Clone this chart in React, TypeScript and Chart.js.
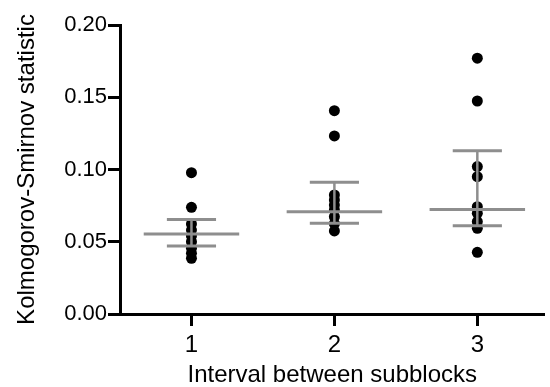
import React, { useEffect, useRef } from "react";
import { Chart, registerables } from "chart.js";

Chart.register(...registerables);

// Category positions on the x axis and their labels
const categories = [1, 2, 3];
const categoryLabels = ["1", "2", "3"];

// Individual Kolmogorov-Smirnov statistics per interval
const group1 = [0.0978, 0.0738, 0.0623, 0.0581, 0.054, 0.05, 0.0455, 0.042, 0.0385];
const group2 = [0.1407, 0.1232, 0.0824, 0.0789, 0.0754, 0.072, 0.0673, 0.0625, 0.0575];
const group3 = [0.177, 0.1474, 0.102, 0.095, 0.0743, 0.0697, 0.0639, 0.0593, 0.0427];

// Summary lines (median and quartiles)
const medians = [0.0554, 0.0708, 0.0724];
const upperQuartiles = [0.0654, 0.0911, 0.113];
const lowerQuartiles = [0.0471, 0.0628, 0.0611];

// Y axis ticks
const yTicks = [0, 0.05, 0.1, 0.15, 0.2];

const groups = [group1, group2, group3];

const FONT = "Arial, 'Liberation Sans', Helvetica, sans-serif";
const GRAY = "#8e8e8e";
const MEDIAN_HALF = 0.334;
const CAP_HALF = 0.172;

export default function App() {
  const ref = useRef<HTMLCanvasElement | null>(null);

  useEffect(() => {
    if (!ref.current) return;

    const lineDs = (pts: { x: number; y: number }[], width: number) => ({
      type: "scatter" as const,
      data: pts,
      showLine: true,
      borderColor: GRAY,
      borderWidth: width,
      borderCapStyle: "butt" as const,
      pointRadius: 0,
      pointHoverRadius: 0,
      order: 0,
    });

    const datasets: any[] = [];
    categories.forEach((c, i) => {
      datasets.push(
        lineDs(
          [
            { x: c - MEDIAN_HALF, y: medians[i] },
            { x: c + MEDIAN_HALF, y: medians[i] },
          ],
          3
        )
      );
      datasets.push(
        lineDs(
          [
            { x: c - CAP_HALF, y: upperQuartiles[i] },
            { x: c + CAP_HALF, y: upperQuartiles[i] },
          ],
          3
        )
      );
      datasets.push(
        lineDs(
          [
            { x: c - CAP_HALF, y: lowerQuartiles[i] },
            { x: c + CAP_HALF, y: lowerQuartiles[i] },
          ],
          3
        )
      );
      datasets.push(
        lineDs(
          [
            { x: c, y: lowerQuartiles[i] },
            { x: c, y: upperQuartiles[i] },
          ],
          2.5
        )
      );
    });
    categories.forEach((c, i) => {
      datasets.push({
        type: "scatter",
        data: groups[i].map((v) => ({ x: c, y: v })),
        backgroundColor: "#000000",
        borderWidth: 0,
        pointRadius: 5.5,
        pointHoverRadius: 5.5,
        order: 1,
      });
    });

    const chart = new Chart(ref.current, {
      type: "scatter",
      data: { datasets },
      options: {
        animation: false,
        responsive: false,
        events: [],
        layout: { padding: { top: 25, right: 0, bottom: 0, left: 0 } },
        plugins: { legend: { display: false }, tooltip: { enabled: false } },
        scales: {
          x: {
            type: "linear",
            min: 0.5,
            max: 3.47,
            afterBuildTicks: (scale: any) => {
              scale.ticks = categories.map((v) => ({ value: v }));
            },
            afterFit: (scale: any) => {
              scale.height = 73;
            },
            grid: {
              display: true,
              drawOnChartArea: false,
              drawTicks: true,
              tickLength: 12,
              tickWidth: 3,
              tickColor: "#000000",
            },
            border: { display: true, color: "#000000", width: 3 },
            ticks: {
              color: "#000000",
              padding: 6,
              font: { family: FONT, size: 24, lineHeight: 1.1 },
              callback: (v: any) => {
                const idx = categories.indexOf(Number(v));
                return idx >= 0 ? categoryLabels[idx] : "";
              },
            },
            title: {
              display: true,
              text: "Interval between subblocks",
              color: "#000000",
              padding: { top: 0, bottom: 0 },
              font: { family: FONT, size: 24, lineHeight: 1.0 },
            },
          },
          y: {
            type: "linear",
            min: 0,
            max: 0.2,
            afterBuildTicks: (scale: any) => {
              scale.ticks = yTicks.map((v) => ({ value: v }));
            },
            afterFit: (scale: any) => {
              scale.width = 120;
            },
            grid: {
              display: true,
              drawOnChartArea: false,
              drawTicks: true,
              tickLength: 12,
              tickWidth: 3,
              tickColor: "#000000",
            },
            border: { display: true, color: "#000000", width: 3 },
            ticks: {
              color: "#000000",
              padding: 1,
              font: { family: FONT, size: 22, lineHeight: 1.2 },
              callback: (v: any) => Number(v).toFixed(2),
            },
            title: {
              display: true,
              text: "Kolmogorov-Smirnov statistic",
              color: "#000000",
              padding: { top: 15, bottom: 0 },
              font: { family: FONT, size: 24, lineHeight: 1.0 },
            },
          },
        },
      },
    });

    return () => chart.destroy();
  }, []);

  return (
    <div style={{ position: "fixed", left: 0, top: 0, width: 550, height: 387, background: "#ffffff" }}>
      <canvas ref={ref} width={550} height={387} style={{ display: "block", width: 550, height: 387 }} />
    </div>
  );
}
